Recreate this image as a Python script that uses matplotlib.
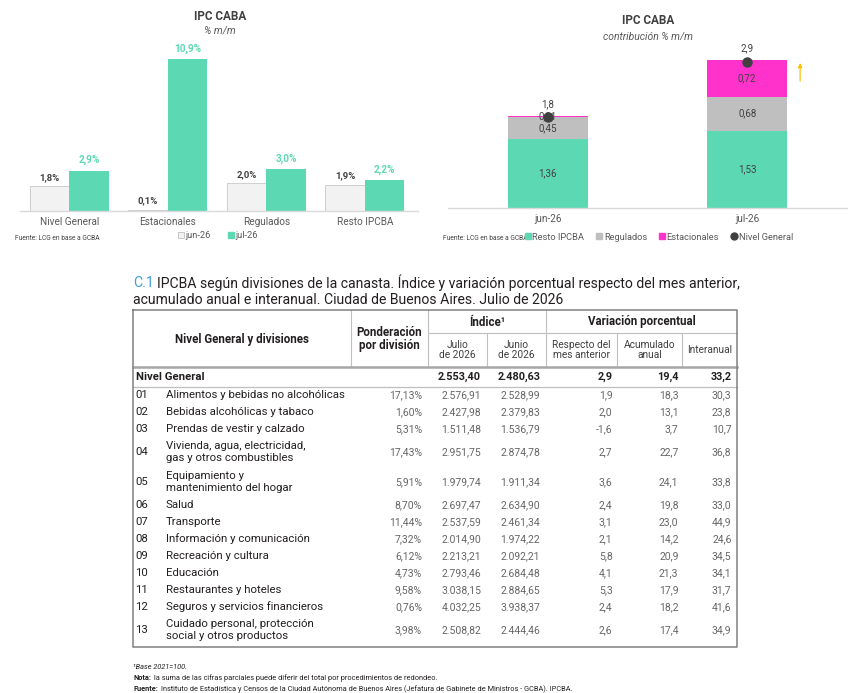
import matplotlib
matplotlib.use("Agg")
import matplotlib.pyplot as plt
from matplotlib.lines import Line2D
import numpy as np

plt.rcParams['font.family'] = ['Roboto', 'DejaVu Sans']

# ---------------- data: left chart (variación % m/m)
categorias = ["Nivel General", "Estacionales", "Regulados", "Resto IPCBA"]
var_jun = [1.8, 0.1, 2.0, 1.9]
var_jul = [2.9, 10.9, 3.0, 2.2]

# ---------------- data: right chart (contribución % m/m)
meses = ["jun-26", "jul-26"]
contrib_resto = [1.36, 1.53]
contrib_regulados = [0.45, 0.68]
contrib_estacionales = [0.01, 0.72]
nivel_general = [1.8, 2.9]

# ---------------- data: table C.1
codigos = ["01", "02", "03", "04", "05", "06", "07", "08", "09", "10", "11", "12", "13"]
divisiones = [
    "Alimentos y bebidas no alcohólicas",
    "Bebidas alcohólicas y tabaco",
    "Prendas de vestir y calzado",
    "Vivienda, agua, electricidad,\ngas y otros combustibles",
    "Equipamiento y\nmantenimiento del hogar",
    "Salud",
    "Transporte",
    "Información y comunicación",
    "Recreación y cultura",
    "Educación",
    "Restaurantes y hoteles",
    "Seguros y servicios financieros",
    "Cuidado personal, protección\nsocial y otros productos",
]
ponderacion = [17.13, 1.60, 5.31, 17.43, 5.91, 8.70, 11.44, 7.32, 6.12, 4.73, 9.58, 0.76, 3.98]
indice_jul = [2576.91, 2427.98, 1511.48, 2951.75, 1979.74, 2697.47, 2537.59,
              2014.90, 2213.21, 2793.46, 3038.15, 4032.25, 2508.82]
indice_jun = [2528.99, 2379.83, 1536.79, 2874.78, 1911.34, 2634.90, 2461.34,
              1974.22, 2092.21, 2684.48, 2884.65, 3938.37, 2444.46]
var_mes = [1.9, 2.0, -1.6, 2.7, 3.6, 2.4, 3.1, 2.1, 5.8, 4.1, 5.3, 2.4, 2.6]
var_acum = [18.3, 13.1, 3.7, 22.7, 24.1, 19.8, 23.0, 14.2, 20.9, 21.3, 17.9, 18.2, 17.4]
var_ia = [30.3, 23.8, 10.7, 36.8, 33.8, 33.0, 44.9, 24.6, 34.5, 34.1, 31.7, 41.6, 34.9]
ng_indice = [2553.40, 2480.63]
ng_var = [2.9, 19.4, 33.2]

MINT = '#5cd9b3'
GREY_SEG = '#bfbfbf'
PINK = '#ff33cc'
DARK = '#404040'
MID = '#595959'
INK = '#231f20'
BLUE = '#3a9fd8'

W, H = 867, 693
fig = plt.figure(figsize=(W / 100, H / 100), dpi=100)


def px_axes(x0, y0, x1, y1):
    # axes placed with pixel coords measured from the top-left corner
    return fig.add_axes([x0 / W, 1 - y1 / H, (x1 - x0) / W, (y1 - y0) / H])


def fmt_es(v, dec):
    s = f"{v:,.{dec}f}"
    return s.replace(",", "X").replace(".", ",").replace("X", ".")


def style_axis(ax):
    for s in ["top", "right", "left"]:
        ax.spines[s].set_visible(False)
    ax.spines["bottom"].set_color('#d9d9d9')
    ax.spines["bottom"].set_linewidth(1.0)
    ax.set_yticks([])
    ax.tick_params(axis='x', length=0, pad=4, labelsize=7.2, labelcolor=MID)


# background axes in pixel units for free text and the table
bg = fig.add_axes([0, 0, 1, 1])
bg.set_xlim(0, W)
bg.set_ylim(H, 0)
bg.axis('off')

# ================= left chart
ax1 = px_axes(20, 40, 418, 211)
x = np.arange(len(categorias))
bw = 0.40
ax1.bar(x - bw / 2, var_jun, bw, color='#f2f2f2', edgecolor='#c8c8c8', lw=0.6)
ax1.bar(x + bw / 2, var_jul, bw, color=MINT)
for xi, v in zip(x, var_jun):
    ax1.annotate(fmt_es(v, 1) + "%", (xi - bw / 2, v), xytext=(0, 3), textcoords='offset points',
                 ha='center', va='bottom', fontsize=6.8, fontweight='bold', color=DARK)
for xi, v in zip(x, var_jul):
    ax1.annotate(fmt_es(v, 1) + "%", (xi + bw / 2, v), xytext=(0, 4), textcoords='offset points',
                 ha='center', va='bottom', fontsize=7.2, fontweight='bold', color=MINT)
ax1.set_xlim(-0.5, 3.54)
ax1.set_ylim(0, 12.3)
ax1.set_xticks(x)
ax1.set_xticklabels(categorias)
style_axis(ax1)

bg.text(220, 16, "IPC CABA", ha='center', va='center', fontsize=8.5, fontweight='bold', color=DARK)
bg.text(220, 31, "% m/m", ha='center', va='center', fontsize=7.5, style='italic', color=MID)
bg.text(15, 238, "Fuente: LCG en base a GCBA", ha='left', va='center', fontsize=4.8, color=DARK)

h_left = [Line2D([], [], marker='s', ls='', mfc='#f2f2f2', mec='#bfbfbf', ms=5, mew=0.6),
          Line2D([], [], marker='s', ls='', color=MINT, ms=5)]
fig.legend(h_left, meses, loc='center', bbox_to_anchor=(218 / W, 1 - 236 / H), ncol=2,
           frameon=False, fontsize=6.7, handlelength=0.6, handletextpad=0.2,
           columnspacing=1.8, labelcolor=MID)

# ================= right chart
ax2 = px_axes(448, 40, 847, 208)
xm = np.arange(len(meses))
bw2 = 0.40
resto = np.array(contrib_resto)
regul = np.array(contrib_regulados)
estac = np.array(contrib_estacionales)
ax2.bar(xm, resto, bw2, color=MINT)
ax2.bar(xm, regul, bw2, bottom=resto, color=GREY_SEG)
ax2.bar(xm, estac, bw2, bottom=resto + regul, color=PINK)
for xi in xm:
    ax2.text(xi, resto[xi] / 2, fmt_es(resto[xi], 2), ha='center', va='center', fontsize=7, color=DARK)
    ax2.text(xi, resto[xi] + regul[xi] / 2, fmt_es(regul[xi], 2), ha='center', va='center',
             fontsize=7, color=DARK)
    ax2.text(xi, resto[xi] + regul[xi] + estac[xi] / 2, fmt_es(estac[xi], 2), ha='center',
             va='center', fontsize=7, color=DARK)
ax2.plot(xm, nivel_general, 'o', color=DARK, ms=6.5, zorder=5)
for xi, v in zip(xm, nivel_general):
    ax2.annotate(fmt_es(v, 1), (xi, v), xytext=(0, 6), textcoords='offset points',
                 ha='center', va='bottom', fontsize=7, color=DARK)
top_jul = resto[-1] + regul[-1] + estac[-1]
ax2.annotate('', xy=(xm[-1] + bw2 / 2 + 0.065, top_jul), xytext=(xm[-1] + bw2 / 2 + 0.065, top_jul - 0.47),
             arrowprops=dict(arrowstyle='-|>', color='#ffc000', lw=0.9, mutation_scale=6))
ax2.set_xlim(-0.5, 1.5)
ax2.set_ylim(0, 3.33)
ax2.set_xticks(xm)
ax2.set_xticklabels(meses)
style_axis(ax2)

bg.text(648, 20, "IPC CABA", ha='center', va='center', fontsize=8.5, fontweight='bold', color=DARK)
bg.text(648, 36, "contribución % m/m", ha='center', va='center', fontsize=7.5, style='italic', color=MID)
bg.text(443, 238, "Fuente: LCG en base a GCBA", ha='left', va='center', fontsize=4.8, color=DARK)

h_right = [Line2D([], [], marker='s', ls='', color=MINT, ms=5),
           Line2D([], [], marker='s', ls='', color=GREY_SEG, ms=5),
           Line2D([], [], marker='s', ls='', color=PINK, ms=5),
           Line2D([], [], marker='o', ls='', color=DARK, ms=5)]
fig.legend(h_right, ["Resto IPCBA", "Regulados", "Estacionales", "Nivel General"], loc='center',
           bbox_to_anchor=(659 / W, 1 - 237 / H), ncol=4, frameon=False, fontsize=6.7,
           handlelength=0.6, handletextpad=0.2, columnspacing=1.3, labelcolor=MID)

# ================= table
renderer = fig.canvas.get_renderer()


def run_text(x0, y0, parts, gap=3.5, **kw):
    # consecutive text runs on one line with different styles
    xx = x0
    for s, style in parts:
        t = bg.text(xx, y0, s, ha='left', va='center', **kw, **style)
        xx += t.get_window_extent(renderer=renderer).width + gap


run_text(133, 283, [("C.1", dict(color=BLUE)),
                    ("IPCBA según divisiones de la canasta. Índice y variación porcentual respecto del mes anterior,",
                     dict(color=INK))], gap=3.0, fontsize=10.05)
bg.text(133, 300, "acumulado anual e interanual. Ciudad de Buenos Aires. Julio de 2026",
        ha='left', va='center', fontsize=10.05, color=INK)

cx = [133, 351, 428, 487, 546, 617, 682, 737]
top, mid_h, head_b, ng_b = 310, 333, 367, 386.5
row_h = [29.5 if "\n" in d else 17 for d in divisiones]
row_edges = ng_b + np.concatenate([[0], np.cumsum(row_h)])
bottom = row_edges[-1] + 1.5

line_c = '#bfbfbf'
# header grid
for xv in [cx[1], cx[2], cx[4]]:
    bg.plot([xv, xv], [top, head_b], color=line_c, lw=0.8)
for xv in [cx[3], cx[5], cx[6]]:
    bg.plot([xv, xv], [mid_h, head_b], color=line_c, lw=0.8)
bg.plot([cx[2], cx[7]], [mid_h, mid_h], color=line_c, lw=0.8)
bg.plot([cx[0], cx[7]], [head_b, head_b], color='#a6a6a6', lw=1.8)
bg.plot([cx[0], cx[7]], [ng_b, ng_b], color=line_c, lw=0.9)
# outer frame
bg.plot([cx[0], cx[7], cx[7], cx[0], cx[0]], [top, top, bottom, bottom, top], color='#808080', lw=1.1)

hfs = 8.3
bg.text((cx[0] + cx[1]) / 2, 339, "Nivel General y divisiones", ha='center', va='center',
        fontsize=hfs, fontweight='bold', color=INK)
bg.text((cx[1] + cx[2]) / 2, 339, "Ponderación\npor división", ha='center', va='center',
        fontsize=hfs, fontweight='bold', color=INK, linespacing=1.05)
bg.text((cx[2] + cx[4]) / 2, 322, "Índice¹", ha='center', va='center',
        fontsize=hfs, fontweight='bold', color=INK)
bg.text((cx[4] + cx[7]) / 2, 322, "Variación porcentual", ha='center', va='center',
        fontsize=hfs, fontweight='bold', color=INK)
subheads = ["Julio\nde 2026", "Junio\nde 2026", "Respecto del\nmes anterior", "Acumulado\nanual", "Interanual"]
for i, s in enumerate(subheads):
    bg.text((cx[2 + i] + cx[3 + i]) / 2, 350, s, ha='center', va='center', fontsize=7.3,
            color=DARK, linespacing=1.05)

# right edges of the value columns
right = [422, 481, 540, 612.5, 678.5, 731.5]
fs = 8.2
ng_y = (head_b + ng_b) / 2
bg.text(135.5, ng_y, "Nivel General", ha='left', va='center', fontsize=fs, fontweight='bold', color=INK)
ng_vals = [fmt_es(v, 2) for v in ng_indice] + [fmt_es(v, 1) for v in ng_var]
for r, s in zip(right[1:], ng_vals):
    bg.text(r, ng_y, s, ha='right', va='center', fontsize=7.8, fontweight='bold', color=INK)

for i in range(len(divisiones)):
    yc = (row_edges[i] + row_edges[i + 1]) / 2
    bg.text(135.5, yc, codigos[i], ha='left', va='center', fontsize=fs, color=INK)
    bg.text(166, yc, divisiones[i], ha='left', va='center', fontsize=fs, color=INK, linespacing=1.2)
    vals = [fmt_es(ponderacion[i], 2) + "%", fmt_es(indice_jul[i], 2), fmt_es(indice_jun[i], 2),
            fmt_es(var_mes[i], 1), fmt_es(var_acum[i], 1), fmt_es(var_ia[i], 1)]
    for r, s in zip(right, vals):
        bg.text(r, yc, s, ha='right', va='center', fontsize=7.5, color='#666666')

# footnotes
bg.text(133, 667, "¹Base 2021=100.", ha='left', va='center', fontsize=5.3, style='italic', color=INK)
run_text(133, 678, [("Nota:", dict(fontweight='bold')),
                    ("la suma de las cifras parciales puede diferir del total por procedimientos de redondeo.",
                     dict())], fontsize=5.3, color=INK)
run_text(133, 689, [("Fuente:", dict(fontweight='bold')),
                    ("Instituto de Estadística y Censos de la Ciudad Autónoma de Buenos Aires "
                     "(Jefatura de Gabinete de Ministros - GCBA). IPCBA.", dict())], fontsize=5.3, color=INK)

fig.savefig("out.png", dpi=100, facecolor='white')
